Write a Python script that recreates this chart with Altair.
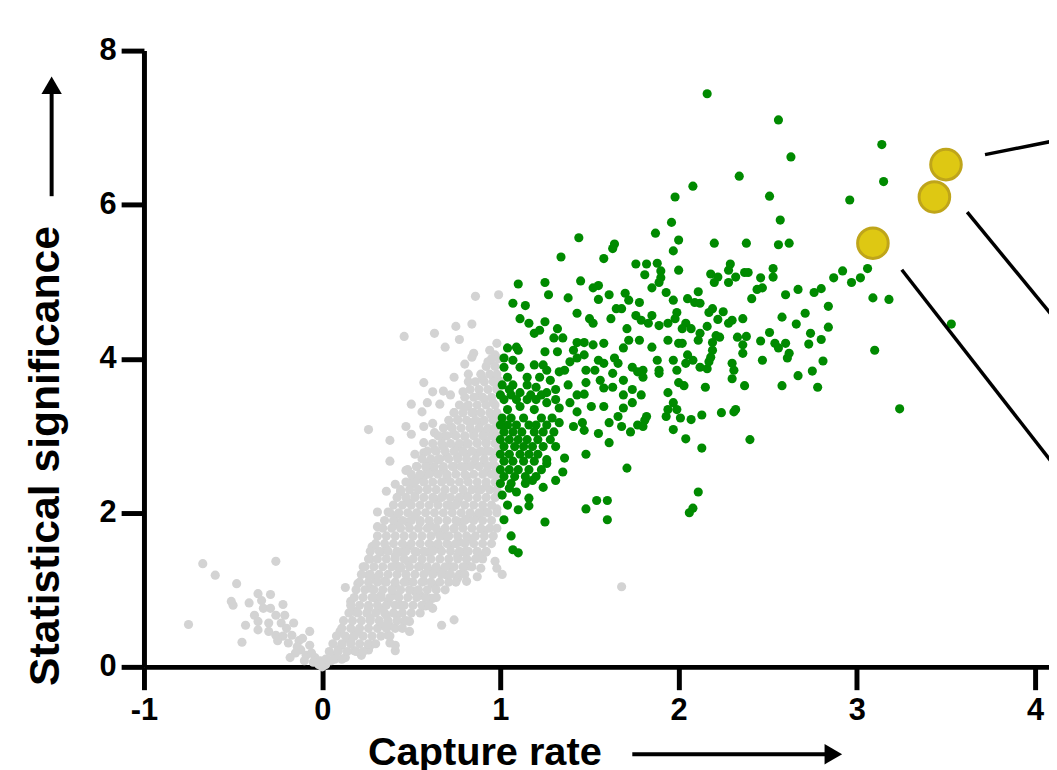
import altair as alt
import pandas as pd

FONT = "Liberation Sans"

# ---- data (x = capture rate, y = statistical significance) ----
green_pts = [
 (2.16,7.44),(2.56,7.10),(3.14,6.78),(2.63,6.62),(2.34,6.37),(3.15,6.30),(2.08,6.24),(1.98,6.10),(2.51,6.11),(2.96,6.06),
 (2.57,5.80),(1.96,5.77),(1.87,5.63),(1.44,5.57),(2.00,5.54),(2.20,5.50),(2.38,5.50),(2.56,5.48),(2.62,5.50),(1.64,5.49),
 (1.63,5.43),(1.97,5.40),(1.34,5.32),(1.58,5.30),(1.76,5.23),(1.82,5.23),(1.88,5.24),(2.29,5.23),(1.90,5.14),(2.00,5.15),
 (2.28,5.15),(1.81,5.09),(1.90,5.05),(2.18,5.10),(2.22,5.06),(2.32,5.06),(2.37,5.12),(2.39,5.12),(2.46,5.05),(2.53,5.17),
 (2.53,5.06),(2.20,4.99),(2.28,4.99),(2.11,4.87),(2.44,4.90),(2.47,4.92),(2.60,4.83),(2.67,4.90),(2.76,4.86),(2.80,4.91),
 (2.87,5.05),(2.92,5.14),(2.97,4.99),(3.02,5.05),(3.06,5.17),(3.09,4.79),(3.18,4.77),(2.41,4.78),(3.53,4.45),(3.10,4.11),
 (3.24,3.35),(1.10,4.97),(1.25,4.99),(1.45,5.01),(1.52,4.92),(1.55,4.95),(1.27,4.83),(1.38,4.79),(1.61,4.83),(1.70,4.85),
 (1.85,4.92),(1.93,4.86),(1.97,4.76),(2.05,4.78),(2.09,4.73),(1.07,4.72),(1.14,4.69),(1.43,4.59),(1.55,4.77),(1.72,4.76),
 (1.78,4.73),(1.65,4.65),(1.68,4.65),(1.89,4.99),(1.11,4.52),(1.16,4.46),(1.25,4.48),(1.32,4.39),(1.50,4.52),(1.52,4.46),
 (1.62,4.52),(1.71,4.39),(1.76,4.56),(1.79,4.50),(1.85,4.56),(1.83,4.46),(1.89,4.43),(1.94,4.46),(1.99,4.60),(1.98,4.52),
 (1.19,4.33),(1.22,4.37),(1.30,4.27),(1.35,4.27),(1.43,4.21),(1.47,4.21),(1.52,4.18),(1.58,4.20),(1.69,4.14),(1.72,4.24),
 (1.78,4.24),(1.85,4.15),(1.94,4.24),(2.00,4.20),(1.04,4.14),(1.09,4.15),(1.10,4.11),(1.25,4.09),(1.32,4.09),(1.41,4.11),
 (1.47,4.05),(1.55,3.98),(1.58,3.94),(1.64,4.01),(1.66,3.94),(1.74,3.89),(1.80,3.85),(1.88,3.98),(1.89,3.85),(1.97,3.98),
 (1.99,3.85),(1.02,4.01),(1.07,3.98),(1.02,3.89),(1.11,3.89),(1.19,3.92),(1.24,3.92),(1.26,3.85),(1.39,3.96),(1.43,4.01),
 (1.36,3.85),(1.33,3.83),(1.48,3.85),(1.53,3.85),(1.56,3.72),(1.63,3.81),(1.69,3.72),(1.77,3.83),(1.80,3.76),(1.89,3.81),
 (1.04,3.76),(1.15,3.76),(1.22,3.76),(1.28,3.72),(1.05,3.60),(1.11,3.56),(1.20,3.63),(1.26,3.56),(1.31,3.60),(1.38,3.66),
 (1.43,3.53),(1.47,3.54),(1.48,3.69),(1.58,3.62),(1.63,3.63),(1.69,3.53),(1.74,3.60),(1.79,3.53),(1.74,3.43),(1.94,3.56),
 (1.97,3.43),(1.99,3.34),(1.69,3.36),(1.58,3.38),(1.51,3.38),(1.04,3.34),(1.11,3.38),(1.19,3.34),(1.26,3.43),(1.33,3.36),
 (1.39,3.43),(1.43,3.31),(1.82,3.25),(1.93,3.25),
 (2.12,4.72),(2.17,4.60),(2.19,4.65),(2.25,4.61),(2.22,4.51),(2.28,4.46),(2.30,4.50),(2.36,4.52),(2.16,4.42),(2.04,4.46),
 (2.07,4.39),(2.02,4.39),(2.12,4.33),(2.21,4.30),(2.23,4.28),(2.33,4.28),(2.38,4.29),(2.36,4.18),(2.36,4.07),(2.19,4.21),
 (2.19,4.11),(2.11,4.24),(2.02,4.20),(2.05,4.05),(2.04,3.94),(2.08,3.98),(2.12,3.89),(2.16,3.87),(2.17,3.96),(2.18,4.02),
 (2.00,3.69),(2.03,3.65),(2.15,3.63),(2.30,3.94),(2.31,3.85),(2.30,3.74),(2.37,3.65),(2.84,4.68),(2.71,4.59),(2.58,4.54),
 (2.66,4.45),(2.84,4.41),(2.74,4.33),(2.80,4.25),(2.73,4.19),(2.51,4.34),(2.46,4.23),(2.54,4.20),(2.56,4.14),(2.60,4.20),
 (2.62,4.07),(2.61,4.01),(2.47,3.98),(2.81,3.97),(2.75,3.84),(2.67,3.78),(2.78,3.63),(2.58,3.65),(2.01,3.23),(2.07,3.21),
 (2.13,3.27),(2.24,3.30),(2.32,3.34),(2.04,2.96),(2.13,2.84),(2.40,2.95),
 (1.33,3.17),(1.41,3.12),(1.46,3.17),(1.47,3.07),(1.55,3.03),(1.61,3.17),(1.68,3.12),(1.66,3.25),(1.73,3.05),(1.77,3.14),
 (1.81,3.20),(1.80,3.12),(1.94,3.34),(1.97,3.08),(2.31,3.31),(1.61,2.91),(1.48,2.76),(1.71,2.58),(1.36,2.71),(1.26,2.69),
 (1.26,2.64),(1.35,2.53),(1.31,2.42),(1.24,2.33),(1.18,2.42),(1.14,2.38),(1.05,2.32),(1.09,2.27),(1.16,2.19),(1.16,2.09),
 (1.04,2.10),(1.10,2.04),(1.02,1.91),(1.25,1.88),(1.48,2.05),(1.54,2.16),(1.60,2.16),(1.60,1.91),(1.06,1.70),(1.07,1.52),
 (1.10,1.48),(2.11,2.27),(2.08,2.06),(2.06,2.00),
 (1.01,3.66),(1.07,3.66),(1.15,3.66),
 (1.00,3.53),(1.06,3.53),(1.17,3.53),(1.23,3.53),
 (1.02,3.47),(1.09,3.47),(1.15,3.47),(1.20,3.47),(1.31,3.47),
 (1.01,3.23),(1.06,3.23),(1.13,3.23),(1.23,3.23),(1.29,3.23),
 (1.00,3.14),(1.04,3.14),(1.09,3.14),(1.16,3.14),(1.20,3.14),(1.26,3.14),
 (1.02,3.05),(1.07,3.05),(1.12,3.05),(1.19,3.05),(1.24,3.05),(1.30,3.05),
 (1.00,2.95),(1.05,2.95),(1.10,2.95),(1.15,2.95),(1.21,2.95),(1.28,2.95),
 (1.02,2.86),(1.08,2.86),(1.13,2.86),(1.18,2.86),(1.24,2.86),(1.31,2.86),
 (1.00,2.76),(1.05,2.76),(1.11,2.76),(1.16,2.76),(1.21,2.76),
 (1.02,2.67),(1.07,2.67),(1.13,2.67),(1.19,2.67),
 (1.00,2.56),(1.05,2.56),(1.10,2.56),(1.16,2.56),(1.23,2.56),
 (1.02,2.47),(1.08,2.47),(1.14,2.47),(1.20,2.47),
 (1.00,2.38),(1.06,2.38),(1.01,2.23),
]

gray_pts = [
 (-0.67,1.34),(-0.60,1.19),(-0.48,1.08),(-0.26,1.37),(-0.75,0.55),(-0.45,0.32),(-0.43,0.54),(-0.51,0.85),(-0.50,0.80),(-0.36,0.95),
 (-0.29,0.94),(-0.34,0.86),(-0.22,0.81),(-0.38,0.67),(-0.33,0.76),(-0.29,0.76),(-0.36,0.59),(-0.26,0.67),(-0.21,0.67),(-0.30,0.57),
 (-0.23,0.57),(-0.16,0.57),(-0.36,0.48),(-0.30,0.46),(-0.26,0.41),(-0.22,0.40),(-0.17,0.41),(-0.13,0.34),(-0.07,0.46),(-0.25,0.34),
 (-0.19,0.31),(-0.12,0.22),(-0.07,0.28),(-0.15,0.18),(-0.09,0.15),(-0.04,0.12),(-0.18,0.12),(-0.02,0.03),(0.02,0.03),(-0.41,0.83),
 (-0.20,0.50),(-0.11,0.37),(-0.06,0.18),(-0.01,0.08),(0.03,0.09),(-0.14,0.26),(-0.10,0.08),(-0.05,0.06),(0.00,0.00),
 (0.05,0.08),(0.07,0.15),(0.09,0.22),(0.11,0.28),(0.13,0.12),(0.18,0.21),(0.22,0.15),(0.16,0.34),(0.14,0.37),(0.10,0.46),
 (0.18,0.41),(0.20,0.46),(0.26,0.22),(0.27,0.28),(0.37,0.41),(0.38,0.31),(0.41,0.21),(0.33,0.54),(0.38,0.53),(0.46,0.59),
 (0.49,0.46),(0.67,0.54),(0.74,0.61),(0.13,1.03),(0.18,0.72),(0.16,0.85),(0.20,1.08),(0.23,1.30),(0.26,1.19),(0.27,1.02),
 (0.30,0.89),(0.26,0.76),(0.27,0.63),(0.32,0.76),(0.33,0.93),(0.37,0.85),(0.41,0.93),(0.44,0.80),(0.42,0.67),(0.36,0.67),
 (0.30,1.15),(0.35,1.11),(0.41,1.06),(0.48,1.11),(0.52,0.98),(0.55,0.93),(0.58,0.79),(0.62,0.89),(0.57,1.11),(0.63,1.06),
 (0.44,1.28),(0.42,1.31),(0.48,1.37),(0.55,1.31),(0.61,1.24),(0.70,1.19),(0.76,1.15),(0.81,1.11),(0.87,1.17),(0.89,1.28),
 (0.82,1.31),(0.89,1.44),(0.92,1.49),(0.80,1.49),(0.76,1.44),(0.72,1.30),(0.66,1.24),(0.28,1.56),(0.27,1.40),(0.33,1.49),
 (0.36,1.53),(0.41,1.44),(0.44,1.49),(0.48,1.56),(0.53,1.49),(0.59,1.49),(0.63,1.57),(0.66,1.53),(0.72,1.57),(0.77,1.62),
 (0.83,1.66),(0.91,1.77),(0.97,1.37),(0.98,1.28),(1.01,1.20),(0.31,1.82),(0.31,2.01),(0.37,2.01),(0.41,1.96),(0.42,1.86),
 (0.48,1.88),(0.52,1.96),(0.55,1.88),(0.61,1.83),(0.65,1.75),(0.68,1.70),(0.74,1.79),(0.77,1.88),(0.81,1.92),(0.87,1.96),
 (0.92,2.01),(0.98,2.05),(0.36,2.28),(0.41,2.37),(0.44,2.27),(0.48,2.14),(0.52,2.22),(0.51,2.37),(0.55,2.44),(0.59,2.31),
 (0.63,2.18),(0.68,2.22),(0.72,2.09),(0.76,2.14),(0.81,2.22),(0.87,2.31),(0.92,2.35),(0.98,2.40),(0.48,2.56),(0.59,2.56),
 (0.70,2.47),(0.81,2.47),(0.92,2.53),
 (0.86,4.81),(0.99,4.83),(0.46,4.29),(0.63,4.33),(0.75,4.42),(0.84,4.45),(0.77,4.25),(0.69,4.15),(0.98,4.20),(0.94,4.11),
 (0.85,4.07),(0.84,4.02),(0.97,4.05),(0.80,3.93),(0.93,3.96),(0.82,3.80),(0.74,3.76),(0.90,3.74),(0.96,3.76),(0.99,3.72),
 (0.57,3.69),(0.82,3.70),(0.62,3.57),(0.68,3.58),(0.72,3.53),(0.79,3.57),(0.88,3.52),(0.98,3.63),(0.50,3.41),(0.59,3.43),
 (0.66,3.41),(0.56,3.31),(0.74,3.30),(0.81,3.38),(0.91,3.47),(0.96,3.43),(0.76,3.21),(0.85,3.30),(0.95,3.27),(0.26,3.08),
 (0.47,3.12),(0.57,3.12),(0.62,3.16),(0.72,3.12),(0.83,3.17),(0.89,3.18),(0.99,3.21),(0.38,2.94),(0.50,3.02),(0.57,2.91),
 (0.63,3.04),(0.68,2.99),(0.74,3.02),(0.80,2.99),(0.85,3.04),(0.91,3.05),(0.96,3.08),(0.38,2.67),(0.52,2.76),(0.57,2.78),
 (0.63,2.82),(0.68,2.86),(0.76,2.86),(0.81,2.89),(0.87,2.91),(0.92,2.93),(0.98,2.91),(0.47,2.55),(0.53,2.60),(0.59,2.65),
 (0.65,2.69),(0.70,2.73),(0.76,2.73),(0.81,2.76),(0.87,2.78),(0.92,2.80),(0.98,2.78),(0.51,2.45),(0.57,2.47),(0.63,2.53),
 (0.68,2.56),(0.74,2.60),(0.80,2.60),(0.85,2.63),(0.91,2.65),(0.96,2.63),(0.99,2.53),
 (0.91,2.01),(0.89,1.79),(0.87,1.49),(0.81,1.40),(0.61,0.89),(0.62,0.76),(0.57,0.80),(0.49,0.59),(0.41,0.28),(0.26,0.27),
 (1.68,1.04),
]

# dense core of the gray cloud, read row by row (significance level, capture rates)
gray_core_y = [0.1, 0.2, 0.3, 0.4, 0.5, 0.6, 0.7, 0.8, 0.9, 1.0,
               1.1, 1.2, 1.3, 1.4, 1.5, 1.6, 1.7, 1.8, 1.9, 2.0,
               2.1, 2.2, 2.3, 2.4, 2.5, 2.6, 2.7, 2.8, 2.9, 3.0,
               3.1, 3.2, 3.3, 3.4, 3.5, 3.6, 3.7, 3.8, 3.9, 4.0]
gray_core_x = [
 [0.02, 0.07, 0.11],
 [0.04, 0.09, 0.14, 0.19, 0.23],
 [0.06, 0.11, 0.16, 0.21, 0.26, 0.30],
 [0.08, 0.13, 0.18, 0.23, 0.28, 0.33, 0.38],
 [0.11, 0.16, 0.21, 0.26, 0.31, 0.36, 0.41, 0.45],
 [0.12, 0.17, 0.22, 0.27, 0.32, 0.37, 0.42, 0.47],
 [0.15, 0.20, 0.25, 0.30, 0.35, 0.40, 0.45, 0.50, 0.55],
 [0.16, 0.21, 0.26, 0.31, 0.36, 0.41, 0.46, 0.51, 0.56, 0.60],
 [0.18, 0.23, 0.28, 0.33, 0.38, 0.43, 0.48, 0.53, 0.58, 0.64],
 [0.19, 0.24, 0.29, 0.34, 0.39, 0.44, 0.49, 0.54, 0.59, 0.64, 0.69],
 [0.21, 0.26, 0.31, 0.36, 0.41, 0.46, 0.51, 0.56, 0.61, 0.66, 0.71, 0.75],
 [0.22, 0.27, 0.32, 0.37, 0.42, 0.47, 0.52, 0.57, 0.62, 0.67, 0.72, 0.77, 0.80],
 [0.24, 0.29, 0.34, 0.39, 0.44, 0.49, 0.54, 0.59, 0.64, 0.69, 0.74, 0.79, 0.84],
 [0.26, 0.31, 0.36, 0.41, 0.46, 0.51, 0.56, 0.61, 0.66, 0.71, 0.76, 0.81, 0.86, 0.90],
 [0.27, 0.32, 0.37, 0.42, 0.47, 0.52, 0.57, 0.62, 0.67, 0.72, 0.77, 0.82, 0.87, 0.92],
 [0.30, 0.35, 0.40, 0.45, 0.50, 0.55, 0.60, 0.65, 0.70, 0.75, 0.80, 0.85, 0.90, 0.95],
 [0.31, 0.36, 0.41, 0.46, 0.51, 0.56, 0.61, 0.66, 0.71, 0.76, 0.81, 0.86, 0.91, 0.96],
 [0.34, 0.39, 0.44, 0.49, 0.54, 0.59, 0.64, 0.69, 0.74, 0.79, 0.84, 0.89, 0.94, 0.98],
 [0.35, 0.40, 0.45, 0.50, 0.55, 0.60, 0.65, 0.70, 0.75, 0.80, 0.85, 0.90, 0.95],
 [0.38, 0.43, 0.48, 0.53, 0.58, 0.63, 0.68, 0.73, 0.78, 0.83, 0.88, 0.93, 0.98],
 [0.40, 0.45, 0.50, 0.55, 0.60, 0.65, 0.70, 0.75, 0.80, 0.85, 0.90, 0.95],
 [0.42, 0.47, 0.52, 0.57, 0.62, 0.67, 0.72, 0.77, 0.82, 0.87, 0.92, 0.97],
 [0.44, 0.49, 0.54, 0.59, 0.64, 0.69, 0.74, 0.79, 0.84, 0.89, 0.94, 0.98],
 [0.47, 0.52, 0.57, 0.62, 0.67, 0.72, 0.77, 0.82, 0.87, 0.92, 0.97],
 [0.50, 0.55, 0.60, 0.65, 0.70, 0.75, 0.80, 0.85, 0.90, 0.95, 0.98],
 [0.53, 0.58, 0.63, 0.68, 0.73, 0.78, 0.83, 0.88, 0.93, 0.97],
 [0.56, 0.61, 0.66, 0.71, 0.76, 0.81, 0.86, 0.91, 0.96],
 [0.59, 0.64, 0.69, 0.74, 0.79, 0.84, 0.89, 0.94, 0.98],
 [0.62, 0.67, 0.72, 0.77, 0.82, 0.87, 0.92, 0.97],
 [0.65, 0.70, 0.75, 0.80, 0.85, 0.90, 0.95, 0.98],
 [0.68, 0.73, 0.78, 0.83, 0.88, 0.93, 0.97],
 [0.71, 0.76, 0.81, 0.86, 0.91, 0.96],
 [0.74, 0.79, 0.84, 0.89, 0.94, 0.98],
 [0.77, 0.82, 0.87, 0.92, 0.97],
 [0.80, 0.85, 0.90, 0.95],
 [0.83, 0.88, 0.93, 0.98],
 [0.86, 0.91, 0.96],
 [0.89, 0.94, 0.98],
 [0.92, 0.97],
 [0.95, 0.99],
]

# highlighted hits
hit_x = [3.50, 3.435, 3.09]
hit_y = [6.52, 6.10, 5.50]

# leader lines (start near the hit, running off to the right)
lead_x = [3.719, 3.619, 3.252]
lead_y = [6.649, 5.902, 5.155]
lead_x2 = [4.321, 4.321, 4.321]
lead_y2 = [6.928, 3.927, 1.983]

# axis-title arrows (shaft start/end, head position) in data units
arrow_x = [-1.518, 1.74]
arrow_y = [6.11, -1.134]
arrow_x2 = [-1.518, 2.84]
arrow_y2 = [7.45, -1.134]
head_x = [-1.518, 2.868]
head_y = [7.55, -1.134]
head_shape = ["triangle-up", "triangle-right"]

# ---- tables ----
gx = [p[0] for p in gray_pts]
gy = [p[1] for p in gray_pts]
for yv, xs in zip(gray_core_y, gray_core_x):
    gx += xs
    gy += [yv] * len(xs)
gray_df = pd.DataFrame({"x": gx, "y": gy})
green_df = pd.DataFrame({"x": [p[0] for p in green_pts], "y": [p[1] for p in green_pts]})
hit_df = pd.DataFrame({"x": hit_x, "y": hit_y})
lead_df = pd.DataFrame({"x": lead_x, "y": lead_y, "x2": lead_x2, "y2": lead_y2})
arrow_df = pd.DataFrame({"x": arrow_x, "y": arrow_y, "x2": arrow_x2, "y2": arrow_y2})
head_df = pd.DataFrame({"x": head_x, "y": head_y, "shape": head_shape})

xscale = alt.Scale(domain=[-1, 4.078], nice=False, zero=False)
yscale = alt.Scale(domain=[0, 8], nice=False, zero=False)

common = dict(
    domainColor="black", domainWidth=5, tickColor="black", tickWidth=5, tickSize=23,
    grid=False, labelFont=FONT, labelFontSize=31, labelFontWeight="bold", labelColor="black",
    labelFlush=False, labelOverlap=False, labelExpr="'' + datum.value",
    titleFont=FONT, titleFontWeight="bold", titleColor="black",
)
x_axis = alt.Axis(values=[-1, 0, 1, 2, 3, 4], title="Capture rate", titleFontSize=40,
                  titleX=343, titleY=98, titleAlign="center", titleBaseline="alphabetic",
                  labelPadding=6, **common)
y_axis = alt.Axis(values=[0, 2, 4, 6, 8], title="Statistical significance", titleFontSize=43,
                  titleAngle=270, titleX=-86, titleY=408, titleAlign="center",
                  titleBaseline="alphabetic", labelPadding=5, **common)

X = alt.X("x:Q", scale=xscale, axis=x_axis)
Y = alt.Y("y:Q", scale=yscale, axis=y_axis)

gray = alt.Chart(gray_df).mark_circle(size=85, color="#D3D3D3", opacity=1).encode(x=X, y=Y)
green = alt.Chart(green_df).mark_circle(size=85, color="#008A00", opacity=1).encode(x=X, y=Y)
leads = alt.Chart(lead_df).mark_rule(color="black", strokeWidth=3.5).encode(
    x=X, y=Y, x2="x2:Q", y2="y2:Q")
hits = alt.Chart(hit_df).mark_point(shape="circle", filled=True, size=950, fill="#DEC813",
                                    stroke="#BFA51A", strokeWidth=3, opacity=1).encode(x=X, y=Y)
arrows = alt.Chart(arrow_df).mark_rule(color="black", strokeWidth=4).encode(
    x=X, y=Y, x2="x2:Q", y2="y2:Q")
heads = alt.Chart(head_df).mark_point(filled=True, size=420, color="black", opacity=1).encode(
    x=X, y=Y, shape=alt.Shape("shape:N", scale=None))

chart = alt.layer(gray, green, leads, hits, arrows, heads).properties(
    width=912, height=621,
    padding={"left": 137, "top": 40, "right": 0, "bottom": 101},
    autosize=alt.AutoSizeParams(type="none"),
    background="white",
).configure_view(stroke=None)

chart.save("out.html", embed_options={"renderer": "svg", "actions": False})
